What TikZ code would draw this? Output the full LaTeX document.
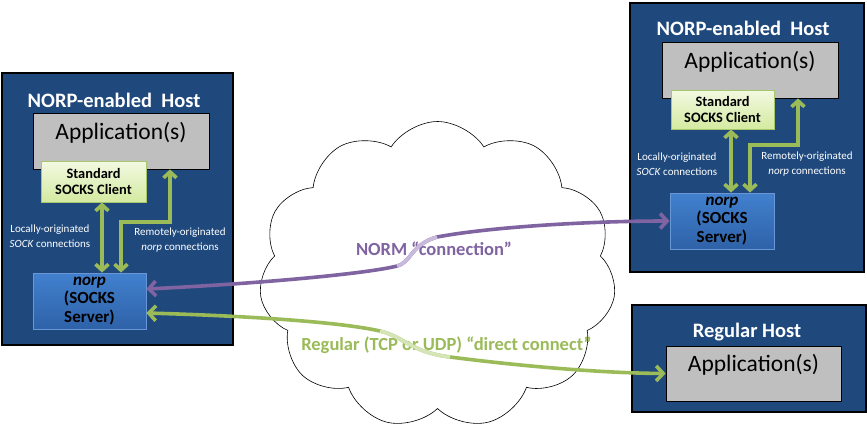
\documentclass[tikz,border=0pt]{standalone}
\usepackage{fontspec}
\setmainfont{Carlito}
\usetikzlibrary{shapes.symbols,arrows.meta}
\definecolor{hostblue}{RGB}{31,73,125}
\definecolor{appgray}{RGB}{191,191,191}
\definecolor{arrgreen}{RGB}{155,187,89}
\definecolor{arrgreenlt}{RGB}{214,229,184}
\definecolor{arrpurple}{RGB}{128,100,162}
\definecolor{arrpurplelt}{RGB}{200,186,220}
\definecolor{clienttop}{RGB}{242,249,226}
\definecolor{clientbot}{RGB}{212,234,160}
\definecolor{clientborder}{RGB}{168,198,108}
\definecolor{servertop}{RGB}{66,128,206}
\definecolor{serverbot}{RGB}{46,98,168}
\definecolor{serverborder}{RGB}{104,150,214}
\begin{document}
\begin{tikzpicture}[x=1pt,y=-1pt,
  hostbox/.style={draw=black, line width=2.6pt, fill=hostblue, inner sep=0pt},
  hosttitle/.style={text=white, font=\fontsize{20.5}{24}\selectfont\bfseries, inner sep=0pt},
  appbox/.style={draw=black, line width=0.8pt, fill=appgray, font=\fontsize{23.5}{27}\selectfont, text height=18pt, text depth=22pt, inner sep=0pt},
  clientbox/.style={draw=clientborder, line width=0.8pt, top color=clienttop, bottom color=clientbot, font=\fontsize{14.4}{16.5}\selectfont\bfseries, align=center, inner sep=0pt},
  serverbox/.style={draw=serverborder, line width=0.8pt, top color=servertop, bottom color=serverbot, font=\fontsize{17}{18.5}\selectfont\bfseries, align=center, inner sep=0pt},
  note/.style={text=white, font=\fontsize{11}{15}\selectfont, align=center, inner sep=0pt},
  garrow/.style={draw=arrgreen, line width=3.6pt, {Straight Barb[length=6pt,width=13pt]}-{Straight Barb[length=6pt,width=13pt]}},
  pconn/.style={draw=arrpurple, line width=3.6pt, {Straight Barb[length=7pt,width=15pt]}-{Straight Barb[length=7pt,width=15pt]}},
  gconn/.style={draw=arrgreen, line width=3.6pt, {Straight Barb[length=7pt,width=15pt]}-{Straight Barb[length=7pt,width=15pt]}},
  conntext/.style={font=\fontsize{18.5}{21}\selectfont\bfseries, inner sep=0pt}
]
\useasboundingbox (0,0) rectangle (867,434);

% cloud
\node[cloud, draw=black, line width=0.6pt, fill=white, cloud puffs=11, cloud puff arc=115, cloud ignores aspect, minimum width=357pt, minimum height=307pt, inner sep=0pt] (cloud) at (437.5,275) {};

% left host
\node[hostbox, minimum width=231pt, minimum height=272pt] (host1) at (117.5,209) {};
\node[hosttitle] (t1) at (114,100) {NORP-enabled\ \ Host};
\node[appbox, minimum width=176pt, minimum height=56pt] (app1) at (121,141) {Application(s)};
\node[clientbox, minimum width=105pt, minimum height=41pt] (cli1) at (93.5,181.5) {Standard\\SOCKS Client};
\node[serverbox, minimum width=113pt, minimum height=56pt] (srv1) at (89.5,301) {\textit{norp}\\(SOCKS\\Server)};
\node[note] (n1a) at (50,236.5) {Locally-originated\\\textit{SOCK} connections};
\node[note] (n1b) at (180,240.5) {Remotely-originated\\\textit{norp} connections};
\coordinate (k1) at (170,222);
\draw[garrow] ([xshift=8.5pt]cli1.south) -- ([xshift=8.5pt]cli1.south |- srv1.north);
\draw[garrow] ([xshift=31.5pt]srv1.north) |- (k1) -- (k1 |- app1.south);

% right host
\node[hostbox, minimum width=234pt, minimum height=269pt] (host2) at (747,137.5) {};
\node[hosttitle] (t2) at (743,28) {NORP-enabled\ \ Host};
\node[appbox, minimum width=176pt, minimum height=56pt] (app2) at (750,70) {Application(s)};
\node[clientbox, minimum width=103pt, minimum height=39pt] (cli2) at (722.5,109.5) {Standard\\SOCKS Client};
\node[serverbox, minimum width=104pt, minimum height=56pt] (srv2) at (722,221) {\textit{norp}\\(SOCKS\\Server)};
\node[note] (n2a) at (677,164.5) {Locally-originated\\\textit{SOCK} connections};
\node[note] (n2b) at (807,164.5) {Remotely-originated\\\textit{norp} connections};
\coordinate (k2) at (798,145);
\draw[garrow] ([xshift=8.5pt]cli2.south) -- ([xshift=8.5pt]cli2.south |- srv2.north);
\draw[garrow] ([xshift=28pt]srv2.north) |- (k2) -- (k2 |- app2.south);

% regular host
\node[hostbox, minimum width=234pt, minimum height=107pt] (host3) at (749,358.5) {};
\node[hosttitle] (t3) at (747,332) {Regular Host};
\node[appbox, minimum width=175pt, minimum height=55pt] (app3) at (753.5,373.5) {Application(s)};

% connection labels
\node[conntext, text=arrpurple] (normlbl) at (434,249) {NORM “connection”};
\node[conntext, text=arrgreen] (reglbl) at (446.5,345) {Regular (TCP or UDP) “direct connect”};

% NORM connection
\draw[pconn] ([yshift=12pt]srv1.east) .. controls (270,283) and (370,273) .. (397,266)
  .. controls (412,262) and (410,245) .. (437,237)
  .. controls (490,227) and (590,221) .. (srv2.west);
\draw[draw=arrpurplelt, line width=3.6pt] (397,266) .. controls (412,262) and (410,245) .. (437,237);

% Regular connection
\draw[gconn] ([yshift=-12pt]srv1.east) .. controls (250,316) and (340,322) .. (380,331)
  .. controls (405,337) and (410,352) .. (450,357)
  .. controls (520,366) and (600,373) .. (app3.west);
\draw[draw=arrgreenlt, line width=3.6pt] (380,331) .. controls (405,337) and (410,352) .. (450,357);
\end{tikzpicture}
\end{document}
